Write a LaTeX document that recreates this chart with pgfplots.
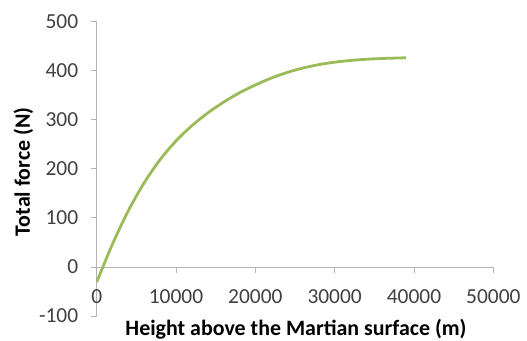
\documentclass[border=0pt]{standalone}
\usepackage{pgfplots}
\pgfplotsset{compat=1.18}
\usepackage{fontspec}
\setmainfont{Carlito}
\definecolor{axgray}{HTML}{B4B4B4}
\definecolor{ticktext}{HTML}{404040}
\definecolor{olive}{HTML}{9BBB59}
\begin{document}
\begin{tikzpicture}[x=1bp,y=1bp]
\useasboundingbox (0,0) rectangle (527,340);
\begin{axis}[
  at={(96.7bp,24bp)}, anchor=south west,
  scale only axis, width=396.6bp, height=294.3bp,
  xmin=0, xmax=50000, ymin=-100, ymax=500,
  axis y line=left, axis x line=middle,
  axis line style={-, draw=axgray, line width=0.9bp},
  hide obscured x ticks=false, hide obscured y ticks=false,
  xtick={0,10000,20000,30000,40000,50000},
  ytick={-100,0,100,200,300,400,500},
  scaled x ticks=false,
  /pgf/number format/1000 sep={},
  /pgf/number format/assume math mode=true,
  major tick length=6bp, tick align=outside,
  tick style={draw=axgray, line width=0.9bp},
  ticklabel style={font=\fontsize{21.5}{25}\selectfont, text=ticktext},
  xticklabel style={yshift=-13bp},
  yticklabel style={xshift=-9bp},
  every axis x label/.style={at={(axis description cs:0.5025,-0.0646)}, anchor=base},
  every axis y label/.style={at={(axis description cs:-0.185,0.49)}, rotate=90, anchor=center},
  label style={font=\fontsize{22}{26}\selectfont\bfseries, text=black},
  xlabel={Height above the Martian surface (m)},
  ylabel={Total force (N)},
]
\addplot[olive, line width=2.8bp, smooth] coordinates {
(0,-31) (2000,47) (4000,115) (6000,172) (8000,219) (10000,257)
(12000,288) (14000,314) (16000,336) (18000,355) (20000,371)
(22000,385) (24000,396.5) (26000,405.5) (28000,412.5) (30000,417.5)
(32000,421) (34000,423.5) (36000,425) (38000,426) (39000,426.5)
};
\end{axis}
\end{tikzpicture}
\end{document}
